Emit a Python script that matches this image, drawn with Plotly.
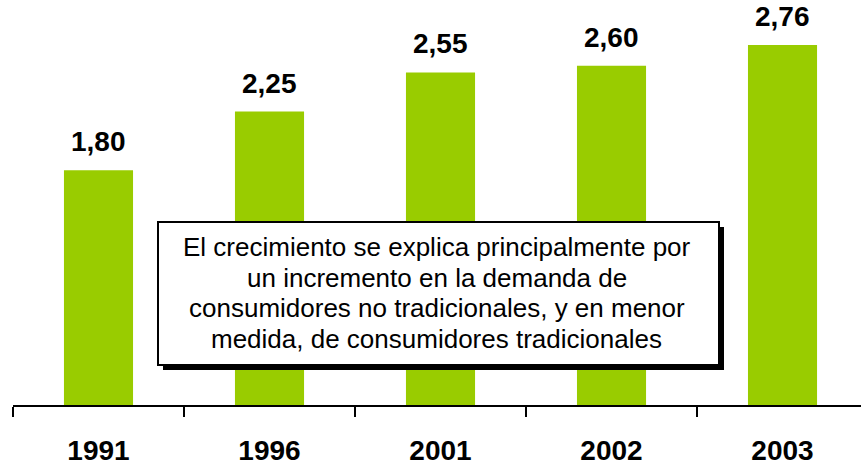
import plotly.graph_objects as go

years = ["1991", "1996", "2001", "2002", "2003"]
values = [1.80, 2.25, 2.55, 2.60, 2.76]
value_labels = ["1,80", "2,25", "2,55", "2,60", "2,76"]
note_lines = [
    "El crecimiento se explica principalmente por",
    "un incremento en la demanda de",
    "consumidores no tradicionales, y en menor",
    "medida, de consumidores tradicionales",
]

FONT = "Arial, 'Liberation Sans', sans-serif"
GREEN = "#99CC00"

W, H = 861, 466
l, r, t, b = 13, 0, 0, 61
pw, ph = W - l - r, H - t - b


def px_x(px):
    return (px - l) / pw


def px_y(py):
    return (H - b - py) / ph


fig = go.Figure()
fig.add_trace(go.Bar(x=years, y=values, marker=dict(color=GREEN, line=dict(width=0)),
                     hoverinfo="skip"))

for i, (v, lab) in enumerate(zip(values, value_labels)):
    fig.add_annotation(x=i, y=v, text="<b>%s</b>" % lab, showarrow=False,
                       yanchor="bottom", yshift=11,
                       font=dict(family=FONT, size=28, color="black"))

bx0, bx1, by0, by1 = 158, 719, 222, 365
off = 5
fig.add_shape(type="rect", xref="paper", yref="paper",
              x0=px_x(bx0 + off), x1=px_x(bx1 + off), y0=px_y(by1 + off), y1=px_y(by0 + off),
              fillcolor="black", line=dict(width=0), layer="above")
fig.add_shape(type="rect", xref="paper", yref="paper",
              x0=px_x(bx0), x1=px_x(bx1), y0=px_y(by1), y1=px_y(by0),
              fillcolor="white", line=dict(color="black", width=2), layer="above")

line_gap = 30.7
first_mid = 247
for k, line in enumerate(note_lines):
    fig.add_annotation(xref="paper", yref="paper", x=px_x((bx0 + bx1) / 2 - 2),
                       y=px_y(first_mid + k * line_gap),
                       text=line, showarrow=False, align="center",
                       xanchor="center", yanchor="middle",
                       font=dict(family=FONT, size=26, color="black"))

fig.update_layout(
    width=W, height=H,
    margin=dict(l=l, r=r, t=t, b=b, autoexpand=False),
    paper_bgcolor="white", plot_bgcolor="white",
    showlegend=False,
    bargap=0.596,
    xaxis=dict(type="category", range=[-0.5, 4.459], showline=True, linecolor="black", linewidth=2,
               ticks="outside", tickson="boundaries", ticklen=10, tickwidth=2, tickcolor="black",
               showgrid=False, zeroline=False, automargin=False,
               tickfont=dict(family=FONT, size=28, color="black"),
               tickvals=years, ticktext=["<b>%s</b>" % y for y in years],
               ticklabelstandoff=19),
    yaxis=dict(range=[0, 3.105], visible=False, showgrid=False, zeroline=False),
)

fig.write_html("out.html", config={"displayModeBar": False},
               post_script="document.body.style.margin='0px';document.body.style.overflow='hidden';")
